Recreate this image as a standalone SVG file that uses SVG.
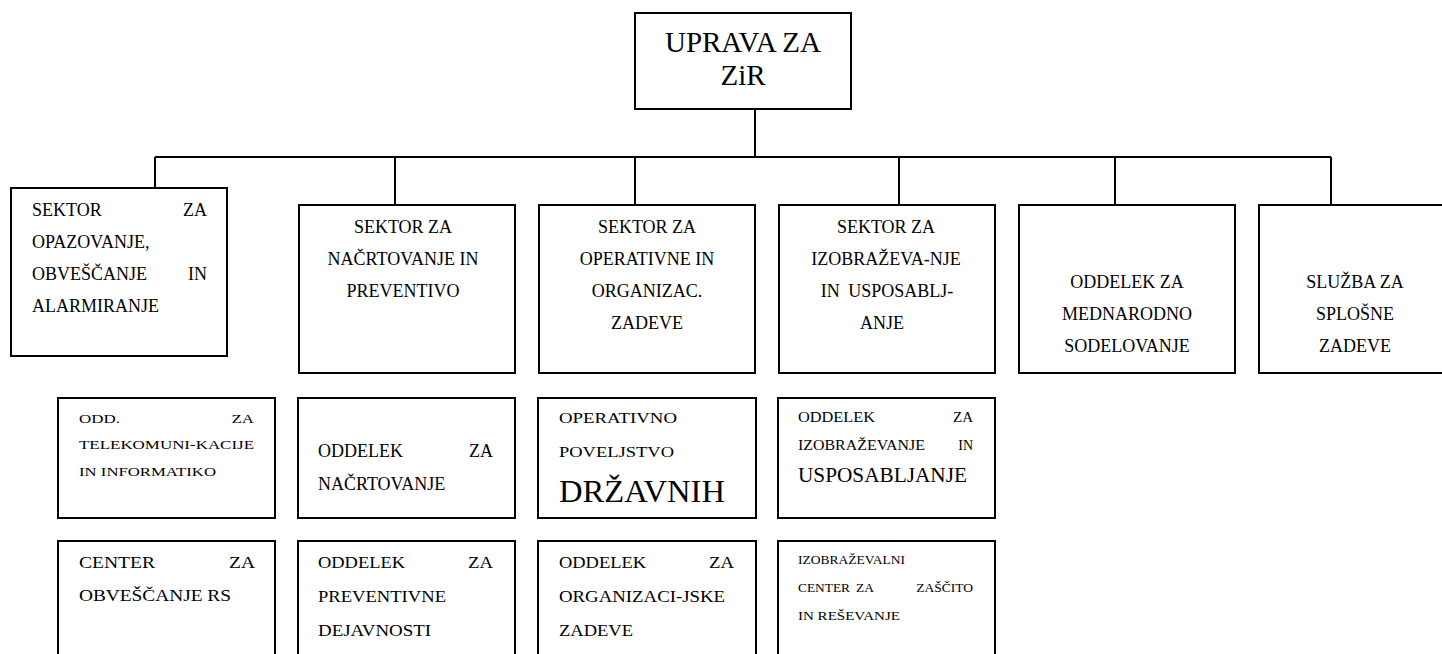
<svg xmlns="http://www.w3.org/2000/svg" width="1442" height="654" viewBox="0 0 1442 654" font-family="'Liberation Serif', 'Times New Roman', serif">
<style>
text{fill:#000;}
.b{fill:#fff;stroke:#000;stroke-width:2;}
.c{stroke:#000;stroke-width:2;fill:none;}
.t18{font-size:18px;}
.m{text-anchor:middle;}
.e{text-anchor:end;}
</style>
<rect width="1442" height="654" fill="#fff"/>
<g id="connectors">
<path class="c" d="M755 109V157M155 157H1331M155 157V188M395 157V205M635 157V205M899 157V205M1115 157V205M1331 157V205"/>
</g>
<g id="uprava">
<rect class="b" x="635" y="13" width="216" height="96"/>
<text x="743" y="52" font-size="29" class="m">UPRAVA ZA</text>
<text x="743" y="85" font-size="29" class="m">ZiR</text>
</g>
<g id="s1" class="t18">
<rect class="b" x="11" y="188" width="216" height="168"/>
<text x="32" y="216">SEKTOR</text><text x="207" y="216" class="e">ZA</text>
<text x="32" y="248">OPAZOVANJE,</text>
<text x="32" y="280">OBVEŠČANJE</text><text x="207" y="280" class="e">IN</text>
<text x="32" y="312">ALARMIRANJE</text>
</g>
<g id="s2" class="t18">
<rect class="b" x="299" y="205" width="216" height="168"/>
<text x="403" y="233" class="m">SEKTOR ZA</text>
<text x="403" y="265" class="m">NAČRTOVANJE IN</text>
<text x="403" y="297" class="m">PREVENTIVO</text>
</g>
<g id="s3" class="t18">
<rect class="b" x="539" y="205" width="216" height="168"/>
<text x="647" y="233" class="m">SEKTOR ZA</text>
<text x="647" y="265" class="m">OPERATIVNE IN</text>
<text x="647" y="297" class="m">ORGANIZAC.</text>
<text x="647" y="329" class="m">ZADEVE</text>
</g>
<g id="s4" class="t18">
<rect class="b" x="779" y="205" width="216" height="168"/>
<text x="886" y="233" class="m">SEKTOR ZA</text>
<text x="886" y="265" class="m">IZOBRAŽEVA-NJE</text>
<text x="887" y="297" class="m" word-spacing="4">IN USPOSABLJ-</text>
<text x="882" y="329" class="m">ANJE</text>
</g>
<g id="s5" class="t18">
<rect class="b" x="1019" y="205" width="216" height="168"/>
<text x="1127" y="288" class="m">ODDELEK ZA</text>
<text x="1127" y="320" class="m">MEDNARODNO</text>
<text x="1127" y="352" class="m">SODELOVANJE</text>
</g>
<g id="s6" class="t18">
<rect class="b" x="1259" y="205" width="216" height="168"/>
<text x="1355" y="288" class="m">SLUŽBA ZA</text>
<text x="1355" y="320" class="m">SPLOŠNE</text>
<text x="1355" y="352" class="m">ZADEVE</text>
</g>
<g id="a1">
<rect class="b" x="58" y="398" width="217" height="120"/>
<text x="79" y="423" font-size="13.5" textLength="41" lengthAdjust="spacingAndGlyphs">ODD.</text>
<text x="231.5" y="423" font-size="13.5" textLength="22.5" lengthAdjust="spacingAndGlyphs">ZA</text>
<text x="79" y="449" font-size="13.5" textLength="175" lengthAdjust="spacingAndGlyphs">TELEKOMUNI-KACIJE</text>
<text x="79" y="476" font-size="13.5" textLength="137" lengthAdjust="spacingAndGlyphs">IN INFORMATIKO</text>
</g>
<g id="a2">
<rect class="b" x="58" y="541" width="217" height="130"/>
<text x="79" y="568" font-size="16" textLength="76" lengthAdjust="spacingAndGlyphs">CENTER</text>
<text x="229" y="568" font-size="16" textLength="26" lengthAdjust="spacingAndGlyphs">ZA</text>
<text x="79" y="601" font-size="16" textLength="152" lengthAdjust="spacingAndGlyphs">OBVEŠČANJE RS</text>
</g>
<g id="b1" class="t18">
<rect class="b" x="298" y="398" width="217" height="120"/>
<text x="318" y="457">ODDELEK</text><text x="493" y="457" class="e">ZA</text>
<text x="318" y="490">NAČRTOVANJE</text>
</g>
<g id="b2">
<rect class="b" x="298" y="541" width="217" height="130"/>
<text x="318" y="568" font-size="16" textLength="87" lengthAdjust="spacingAndGlyphs">ODDELEK</text>
<text x="468" y="568" font-size="16" textLength="25" lengthAdjust="spacingAndGlyphs">ZA</text>
<text x="318" y="602" font-size="16" textLength="128" lengthAdjust="spacingAndGlyphs">PREVENTIVNE</text>
<text x="318" y="636" font-size="16" textLength="113" lengthAdjust="spacingAndGlyphs">DEJAVNOSTI</text>
</g>
<g id="c1">
<rect class="b" x="538" y="398" width="218" height="120"/>
<text x="559" y="423" font-size="15" textLength="118" lengthAdjust="spacingAndGlyphs">OPERATIVNO</text>
<text x="559" y="457" font-size="15" textLength="115" lengthAdjust="spacingAndGlyphs">POVELJSTVO</text>
<text x="559" y="502" font-size="31" textLength="166" lengthAdjust="spacingAndGlyphs">DRŽAVNIH</text>
</g>
<g id="c2">
<rect class="b" x="538" y="541" width="218" height="130"/>
<text x="559" y="568" font-size="16" textLength="87" lengthAdjust="spacingAndGlyphs">ODDELEK</text>
<text x="709" y="568" font-size="16" textLength="25" lengthAdjust="spacingAndGlyphs">ZA</text>
<text x="559" y="602" font-size="16" textLength="166" lengthAdjust="spacingAndGlyphs">ORGANIZACI-JSKE</text>
<text x="559" y="636" font-size="16" textLength="74" lengthAdjust="spacingAndGlyphs">ZADEVE</text>
</g>
<g id="d1">
<rect class="b" x="778" y="398" width="217" height="120"/>
<text x="798" y="422" font-size="14" textLength="77" lengthAdjust="spacingAndGlyphs">ODDELEK</text>
<text x="953" y="422" font-size="14" textLength="20" lengthAdjust="spacingAndGlyphs">ZA</text>
<text x="798" y="450" font-size="14" textLength="127" lengthAdjust="spacingAndGlyphs">IZOBRAŽEVANJE</text>
<text x="973" y="450" font-size="14" class="e">IN</text>
<text x="798" y="482" font-size="21" textLength="169" lengthAdjust="spacingAndGlyphs">USPOSABLJANJE</text>
</g>
<g id="d2">
<rect class="b" x="778" y="541" width="217" height="130"/>
<text x="798" y="564" font-size="13.5" textLength="107" lengthAdjust="spacingAndGlyphs">IZOBRAŽEVALNI</text>
<text x="798" y="592" font-size="13.5" textLength="52" lengthAdjust="spacingAndGlyphs">CENTER</text>
<text x="865" y="592" font-size="13.5" class="m">ZA</text>
<text x="973" y="592" font-size="13.5" class="e">ZAŠČITO</text>
<text x="798" y="620" font-size="13.5" textLength="102" lengthAdjust="spacingAndGlyphs">IN REŠEVANJE</text>
</g>
</svg>
